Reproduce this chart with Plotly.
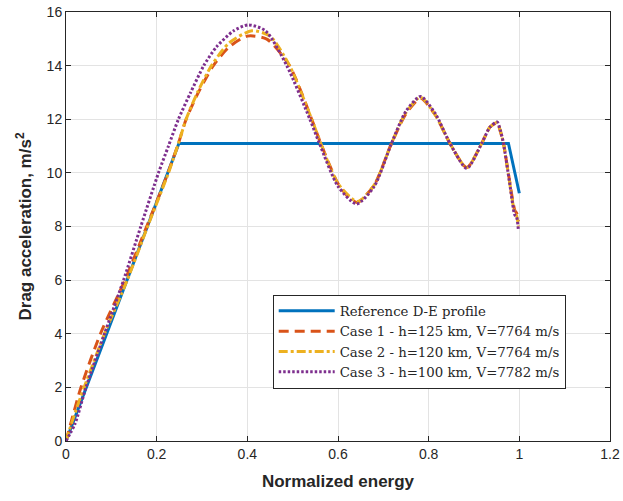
import plotly.graph_objects as go

# Reference drag-energy profile
ref_e = [0.0, 0.249, 0.976, 1.0]
ref_d = [0.0, 11.1, 11.1, 9.24]

# Case 1 - h=125 km, V=7764 m/s
c1_e = [0.0, 0.0125, 0.033, 0.076, 0.13, 0.178, 0.225, 0.248, 0.265, 0.292, 0.325, 0.36, 0.40,
        0.443, 0.493, 0.542, 0.562, 0.60, 0.623, 0.643, 0.68, 0.718, 0.75, 0.782,
        0.815, 0.847, 0.884, 0.917, 0.935, 0.951, 0.958, 0.965, 0.978, 0.99, 0.994, 0.998]
c1_d = [0.0, 0.78, 2.0, 4.0, 6.0, 8.0, 10.0, 11.1, 12.0, 13.0, 14.0, 14.7, 15.1,
        14.99, 14.0, 12.0, 11.1, 9.6, 9.1, 8.9, 9.55, 11.1, 12.2, 12.78,
        12.15, 11.1, 10.2, 11.1, 11.7, 11.86, 11.55, 11.1, 9.75, 8.6, 8.5, 8.2]

# Case 2 - h=120 km, V=7764 m/s
c2_e = [0.0, 0.015, 0.04, 0.085, 0.135, 0.18, 0.226, 0.248, 0.265, 0.29, 0.321, 0.36, 0.41,
        0.45, 0.493, 0.542, 0.562, 0.60, 0.643, 0.68, 0.718, 0.75, 0.782,
        0.815, 0.847, 0.884, 0.917, 0.935, 0.951, 0.958, 0.965, 0.978, 0.99, 0.994, 0.998]
c2_d = [0.0, 0.8, 2.0, 4.0, 6.0, 8.0, 10.0, 11.1, 12.0, 13.0, 14.0, 14.85, 15.3,
        15.1, 14.0, 12.0, 11.1, 9.6, 8.93, 9.55, 11.1, 12.25, 12.82,
        12.15, 11.1, 10.2, 11.1, 11.7, 11.88, 11.58, 11.1, 9.72, 8.5, 8.4, 8.0]

# Case 3 - h=100 km, V=7782 m/s
c3_e = [0.0, 0.02, 0.044, 0.085, 0.127, 0.165, 0.204, 0.226, 0.248, 0.275, 0.304, 0.332, 0.37,
        0.402, 0.44, 0.487, 0.538, 0.559, 0.60, 0.641, 0.68, 0.718, 0.75, 0.782,
        0.815, 0.847, 0.884, 0.917, 0.935, 0.951, 0.958, 0.965, 0.978, 0.99, 0.994, 0.998]
c3_d = [0.0, 0.65, 2.0, 4.0, 6.0, 8.0, 10.0, 11.0, 12.0, 13.0, 14.0, 14.7, 15.3,
        15.52, 15.3, 14.0, 12.0, 11.1, 9.5, 8.84, 9.5, 11.1, 12.3, 12.85,
        12.2, 11.1, 10.17, 11.1, 11.7, 11.9, 11.6, 11.1, 9.7, 8.43, 8.35, 7.85]

x_ticks = [0, 0.2, 0.4, 0.6, 0.8, 1.0, 1.2]
x_labels = ["0", "0.2", "0.4", "0.6", "0.8", "1", "1.2"]
y_ticks = [0, 2, 4, 6, 8, 10, 12, 14, 16]

fig = go.Figure()
fig.add_trace(go.Scatter(x=ref_e, y=ref_d, mode="lines", name="Reference D-E profile",
                         line=dict(color="#0072BD", width=3)))
fig.add_trace(go.Scatter(x=c1_e, y=c1_d, mode="lines", name="Case 1 - h=125 km, V=7764 m/s",
                         line=dict(color="#D95319", width=3, dash="10px,6px",
                                   shape="spline", smoothing=0.7)))
fig.add_trace(go.Scatter(x=c2_e, y=c2_d, mode="lines", name="Case 2 - h=120 km, V=7764 m/s",
                         line=dict(color="#EDB120", width=3, dash="9px,3px,3px,3px",
                                   shape="spline", smoothing=0.7)))
fig.add_trace(go.Scatter(x=c3_e, y=c3_d, mode="lines", name="Case 3 - h=100 km, V=7782 m/s",
                         line=dict(color="#7E2F8E", width=3, dash="2.5px,2px",
                                   shape="spline", smoothing=0.7)))

axis_common = dict(
    showline=True, linecolor="#262626", linewidth=1, mirror="allticks",
    ticks="inside", ticklen=5, tickcolor="#262626", automargin=False,
    showgrid=True, gridcolor="#e3e3e3", gridwidth=1, zeroline=False,
    tickfont=dict(family="Liberation Sans, Arial, sans-serif", size=14, color="#262626"),
)

fig.update_xaxes(range=[0, 1.2], tickvals=x_ticks, ticktext=x_labels,
                 title=dict(text="<b>Normalized energy</b>", standoff=14,
                            font=dict(family="Liberation Sans, Arial, sans-serif", size=17, color="#262626")),
                 **axis_common)
fig.update_yaxes(range=[0, 16], tickvals=y_ticks,
                 title=dict(text="<b>Drag acceleration, m/s<sup>2</sup></b>", standoff=10,
                            font=dict(family="Liberation Sans, Arial, sans-serif", size=17, color="#262626")),
                 **axis_common)

fig.update_layout(
    width=623, height=501,
    margin=dict(l=66, r=13, t=12, b=60),
    plot_bgcolor="white", paper_bgcolor="white",
    legend=dict(x=(272.7 - 66) / 544, y=(441 - 294.7) / 429, xanchor="left", yanchor="top",
                bgcolor="white", bordercolor="#262626", borderwidth=1,
                font=dict(family="DejaVu Serif, serif", size=13.3, color="#262626"),
                itemwidth=56, tracegroupgap=0),
    showlegend=True,
)

fig.write_html("out.html")
